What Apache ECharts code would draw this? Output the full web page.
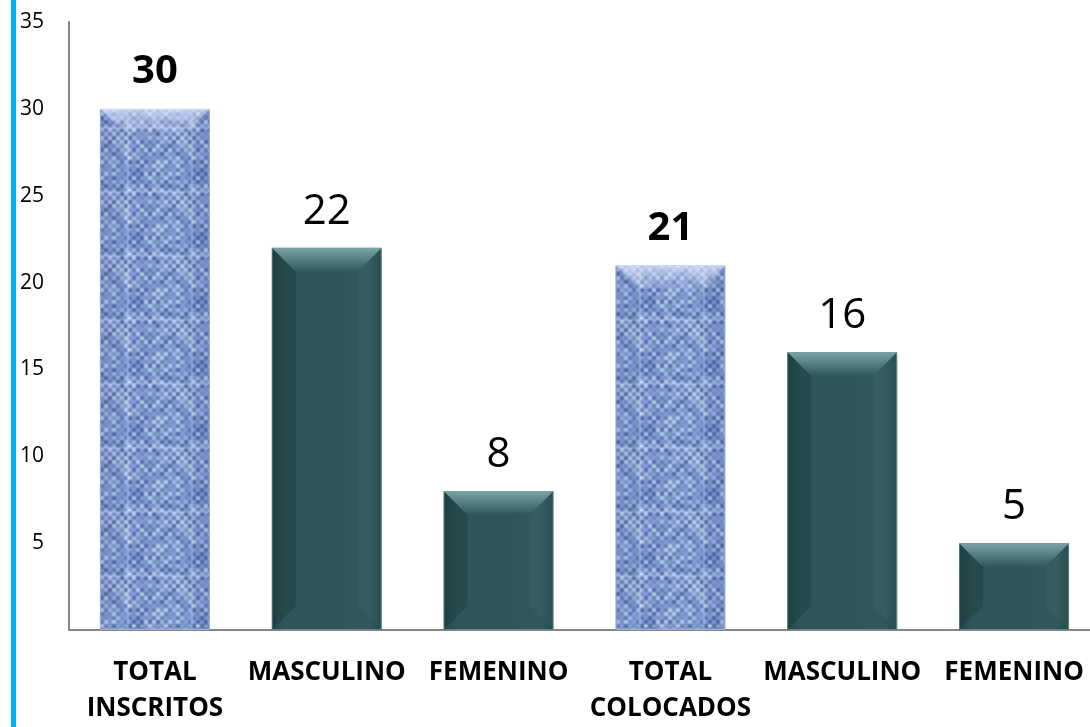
<!DOCTYPE html>
<html><head><meta charset="utf-8">
<script src="https://cdn.jsdelivr.net/npm/echarts@6/dist/echarts.min.js"></script>
<style>html,body{margin:0;padding:0;background:#fff;overflow:hidden}
#wrap{position:absolute;left:0;top:0;width:1090px;height:727px;overflow:hidden}
#c{position:absolute;left:0;top:0;width:1100px;height:727px}
#bl{position:absolute;left:11px;top:0;width:5px;height:727px;background:#00B0F0}</style>
</head><body><div id="wrap"><div id="c"></div><div id="bl"></div></div>
<script>
const categories = ['TOTAL\nINSCRITOS','MASCULINO','FEMENINO','TOTAL\nCOLOCADOS','MASCULINO','FEMENINO'];
const values = [30, 22, 8, 21, 16, 5];
const isTotal = [true, false, false, true, false, false];
const yTicks = [5, 10, 15, 20, 25, 30, 35];

// fabric texture (style only)
function makeFabric(){
  const n = 64;
  const c0 = document.createElement('canvas'); c0.width = n; c0.height = n;
  const g0 = c0.getContext('2d');
  g0.fillStyle = '#7890C8'; g0.fillRect(0,0,n,n);
  let s = 11;
  function rnd(){ s = (s*9301+49297)%233280; return s/233280; }
  const pal = ['#3F5C9C','#5473B3','#6E89C3','#8DA4D6','#AFC1E8','#C9D7F3'];
  for (let y=0;y<n;y+=4){
    for (let x=0;x<n;x+=4){
      const k = ((x/4)+(y/4))%2;
      const r = rnd();
      const idx = k ? 3 + Math.floor(r*3) : Math.floor(r*3);
      g0.fillStyle = pal[idx];
      g0.fillRect(x,y,4,4);
    }
  }
  const c = document.createElement('canvas'); c.width = n; c.height = n;
  const g = c.getContext('2d');
  g.filter = 'blur(0.8px)';
  for (let dx=-n; dx<=n; dx+=n) for (let dy=-n; dy<=n; dy+=n) g.drawImage(c0,dx,dy);
  return c;
}
const fabric = makeFabric();
const teal = {type:'linear',x:0,y:0,x2:1,y2:0,colorStops:[
  {offset:0,color:'#24474B'},{offset:0.12,color:'#2F575B'},{offset:0.5,color:'#2E5558'},{offset:0.88,color:'#31595D'},{offset:1,color:'#24474B'}]};

const barData = values.map((v,i)=>({
  value: v,
  itemStyle: isTotal[i] ? {color:{image:fabric,repeat:'repeat'}, borderColor:'#9FB3DD', borderWidth:1} : {color:teal, borderColor:'#5E8589', borderWidth:1},
  label: isTotal[i] ? {fontWeight:'bold', fontSize:40, distance:17} : {fontWeight:'normal', fontSize:42, distance:15}
}));

const chart = echarts.init(document.getElementById('c'));
chart.setOption({
  animation:false,
  grid:{left:69,right:0,top:22,bottom:93,containLabel:false},
  xAxis:{type:'category',data:categories,
    axisLine:{lineStyle:{color:'#868686',width:2}},axisTick:{show:false},
    axisLabel:{interval:0,color:'#000',fontFamily:'Open Sans',fontWeight:'bold',fontSize:26,lineHeight:36,margin:25}},
  yAxis:{type:'value',min:0,max:35,interval:5,
    axisLine:{show:true,lineStyle:{color:'#868686',width:2}},axisTick:{show:false},splitLine:{show:false},
    axisLabel:{color:'#000',fontFamily:'Open Sans',fontSize:21,margin:25,
      formatter:v=> yTicks.indexOf(v)>=0 ? String(v) : ''}},
  series:[
    {type:'bar',data:barData,barWidth:110,
      label:{show:true,position:'top',color:'#000',fontFamily:'Open Sans'}},
    {type:'custom',data:values.map((v,i)=>[i,v]),z:3,silent:true,
      renderItem:function(params,api){
        const top = api.coord([api.value(0),api.value(1)]);
        const b = api.coord([api.value(0),0])[1];
        const w = 110, l = top[0]-w/2, r = top[0]+w/2, t = top[1], d = 24;
        const tot = isTotal[params.dataIndex];
        return {type:'group',children:[
          {type:'polygon',shape:{points:[[l,t],[r,t],[r-d,t+d],[l+d,t+d]]},
            style:{fill:{type:'linear',x:0,y:0,x2:0,y2:1,colorStops: tot ?
              [{offset:0,color:'rgba(230,238,255,0.7)'},{offset:1,color:'rgba(200,215,245,0.1)'}] :
              [{offset:0,color:'#7AA3A6'},{offset:1,color:'#2F575B'}]}}},
          {type:'polygon',shape:{points:[[l,t],[l+d,t+d],[l+d,b-d],[l,b]]},
            style:{fill: tot ? 'rgba(40,60,120,0.08)' : 'rgba(20,45,48,0.3)'}},
          {type:'polygon',shape:{points:[[r,t],[r-d,t+d],[r-d,b-d],[r,b]]},
            style:{fill: tot ? 'rgba(40,60,120,0.08)' : 'rgba(70,110,115,0.2)'}}
        ]};
      }}
  ]
});
</script></body></html>
